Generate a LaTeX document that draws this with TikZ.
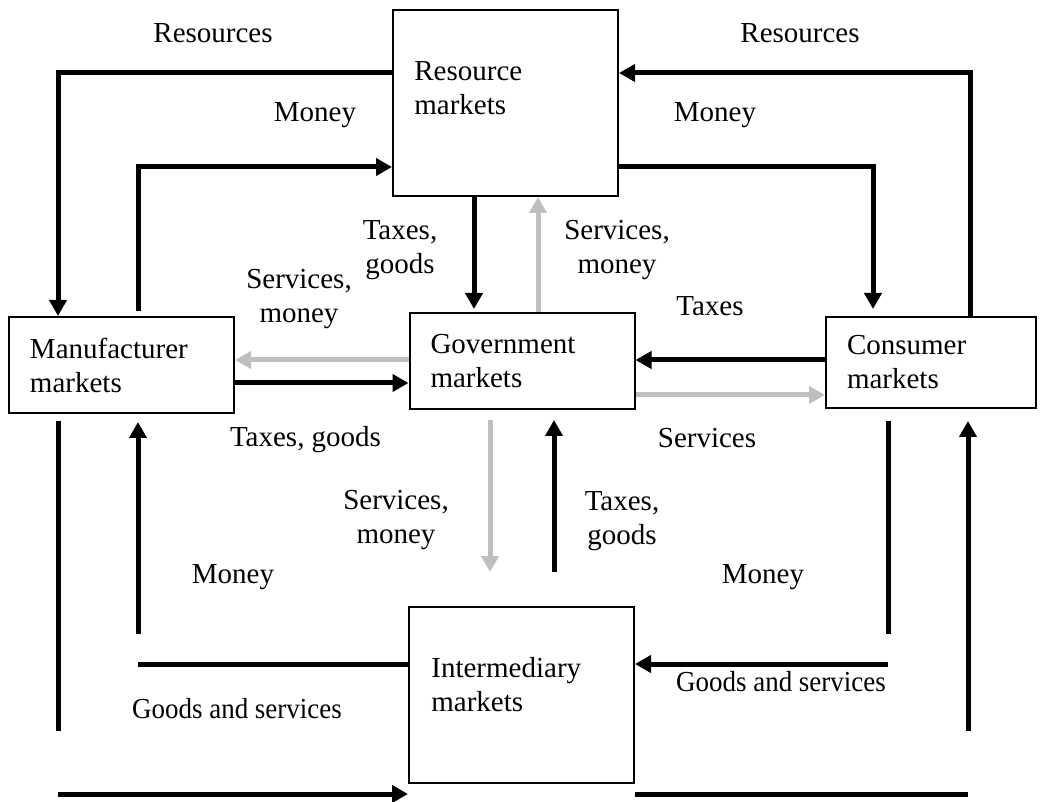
\documentclass[tikz,border=0pt]{standalone}
\usepackage{fontspec}
\usepackage{graphicx}
\setmainfont{Liberation Serif}
\usetikzlibrary{arrows.meta}
\definecolor{flowgray}{RGB}{191,191,191}
\begin{document}
\begin{tikzpicture}[x=0.5pt,y=-0.5pt,
  every node/.style={font=\fontsize{14.5}{17}\selectfont},
  market/.style={draw, line width=1pt, inner xsep=10.5pt, inner ysep=0pt,
                 align=left, text width=91.5pt, minimum height=48pt},
  boxtext/.style={align=left, inner sep=0pt},
  lbl/.style={align=center, inner sep=0pt},
  line/.style={line width=2.5pt},
  flow/.style={line width=2.5pt, -{Triangle[length=8pt,width=8.5pt]}},
  grayflow/.style={flow, draw=flowgray}
]
\useasboundingbox (0,0) rectangle (1045,802);

% markets
\node[market, minimum height=93pt] (res) at (505.5,103) {};
\node[boxtext, anchor=west] (res-text) at (414,88.5) {Resource\\markets};
\node[market] (man) at (121.5,365) {Manufacturer\\markets};
\node[market] (gov) at (522,361) {Government\\markets};
\node[market, text width=84pt, minimum height=45.5pt] (con) at (931,362.5) {Consumer\\markets};
\node[market, minimum height=88pt] (int) at (521.5,695) {};
\node[boxtext, anchor=west] (int-text) at (431,685) {Intermediary\\markets};

% bend points and free ends
\coordinate (tl) at (58,73);
\coordinate (tm) at (138,167);
\coordinate (tr) at (970,73);
\coordinate (tn) at (873,167);
\coordinate (cd) at (474,0);
\coordinate (cu) at (538,0);
\coordinate (hg) at (0,360);
\coordinate (hm) at (0,383);
\coordinate (hs) at (0,395);
\coordinate (gd) at (490,572);
\coordinate (gu) at (554,572);
\coordinate (lu) at (138,634);
\coordinate (lh) at (138,664);
\coordinate (lv) at (58,731);
\coordinate (lb) at (58,794);
\coordinate (rv) at (888,634);
\coordinate (rh) at (888,664);
\coordinate (ru) at (968,731);
\coordinate (rb) at (968,794);

% resource market loops
\draw[flow] (res.west |- tl) -| (man.north -| tl);
\draw[flow, shorten <=2.5pt] (man.north -| tm) |- (res.west |- tm);
\draw[flow] (con.north -| tr) |- (res.east |- tr);
\draw[flow, shorten >=3.5pt] (res.east |- tn) -| (con.north -| tn);

% government links
\draw[flow, shorten >=1.5pt] (res.south -| cd) -- (gov.north -| cd);
\draw[grayflow] (gov.north -| cu) -- (res.south -| cu);
\draw[grayflow] (gov.west |- hg) -- (man.east |- hg);
\draw[flow] (man.east |- hm) -- (gov.west |- hm);
\draw[flow] (con.west |- hg) -- (gov.east |- hg);
\draw[grayflow] (gov.east |- hs) -- (con.west |- hs);
\draw[grayflow, shorten <=5pt] (gov.south -| gd) -- (gd);
\draw[flow, shorten >=5pt] (gu) -- (gov.south -| gu);

% intermediary market loops
\draw[flow, shorten >=4pt] (lu) -- (man.south -| lu);
\draw[line] (int.west |- lh) -- (lh);
\draw[line, shorten <=3.5pt] (man.south -| lv) -- (lv);
\draw[flow] (lb) -- (int.west |- lb);
\draw[line, shorten <=6pt] (con.south -| rv) -- (rv);
\draw[flow] (rh) -- (int.east |- rh);
\draw[line] (int.east |- rb) -- (rb);
\draw[flow, shorten >=6pt] (ru) -- (con.south -| ru);

% flow labels
\node[lbl] (l-res1) at (213,33.5) {Resources};
\node[lbl] (l-res2) at (800,33.5) {Resources};
\node[lbl] (l-mon1) at (315,115) {Money};
\node[lbl] (l-mon2) at (715,115) {Money};
\node[lbl] (l-tg1) at (400,250) {Taxes,\\goods};
\node[lbl] (l-sm1) at (299,299) {Services,\\money};
\node[lbl] (l-sm2) at (617,250) {Services,\\money};
\node[lbl] (l-tax) at (710,306.5) {Taxes};
\node[lbl] (l-tg2) at (305.5,440) {Taxes, goods};
\node[lbl] (l-ser) at (707,438.5) {Services};
\node[lbl] (l-sm3) at (396,520) {Services,\\money};
\node[lbl] (l-tg3) at (622,521) {Taxes,\\goods};
\node[lbl] (l-mon3) at (233,577.5) {Money};
\node[lbl] (l-mon4) at (763,577.5) {Money};
\node[lbl] (l-gs1) at (237,709) {\scalebox{0.93}[1]{Goods and services}};
\node[lbl] (l-gs2) at (781,681.5) {\scalebox{0.93}[1]{Goods and services}};
\end{tikzpicture}
\end{document}
